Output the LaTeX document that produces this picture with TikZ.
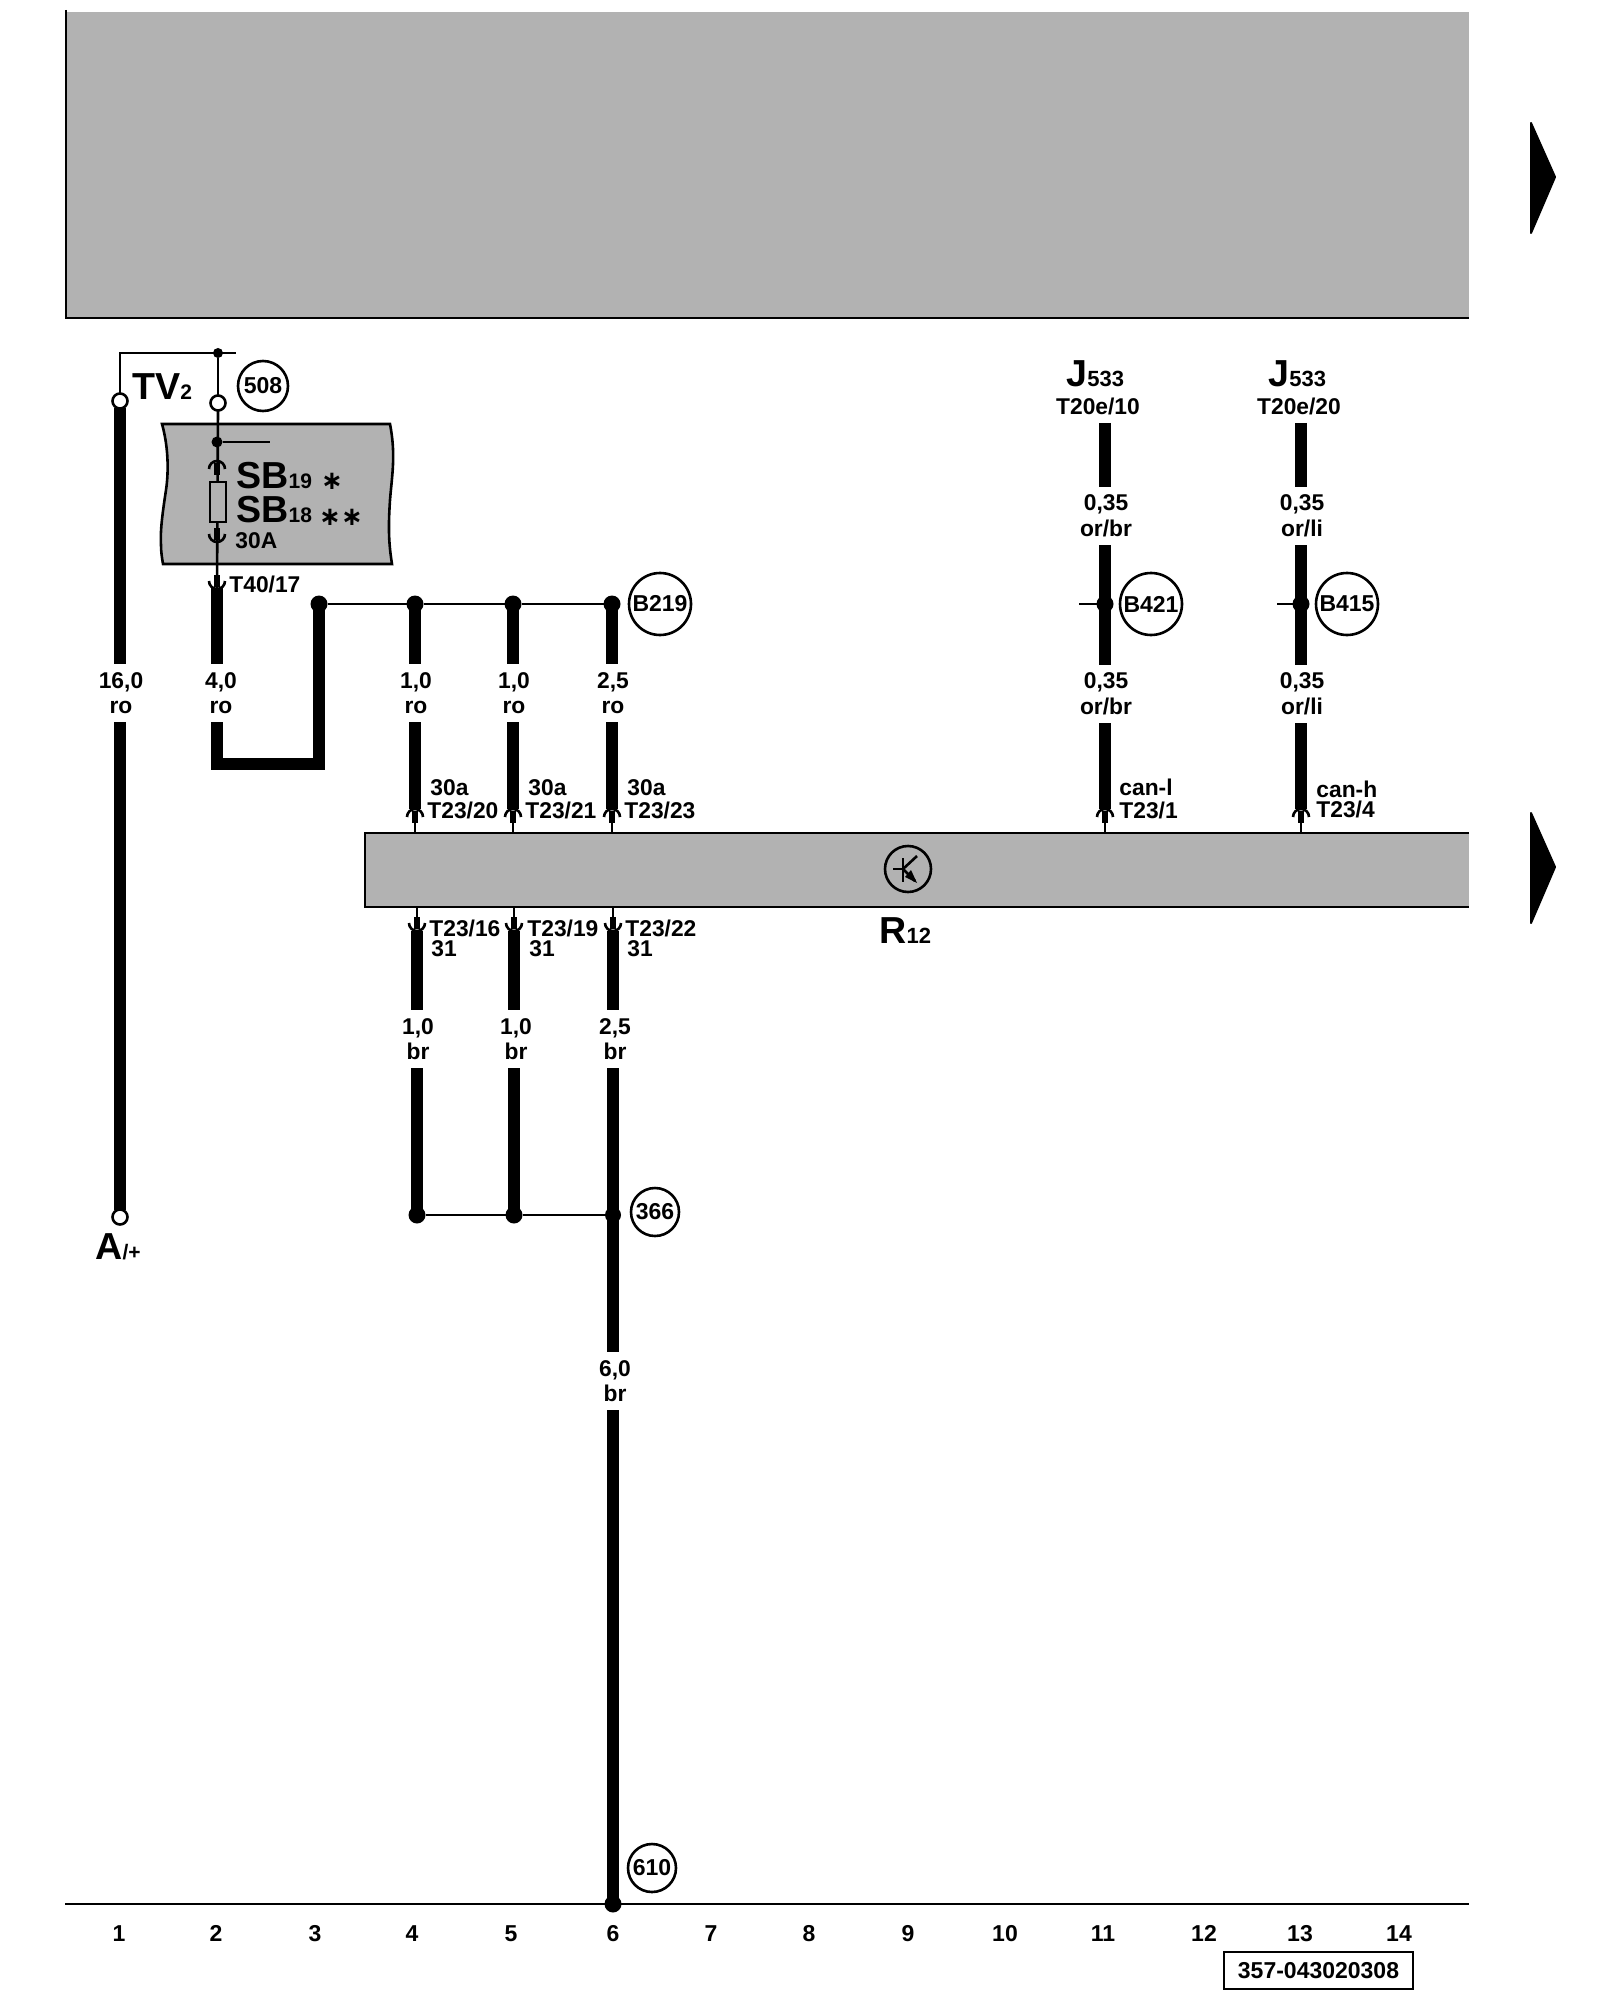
\documentclass[tikz,border=0pt]{standalone}
\usepackage{fontspec}
\setmainfont{Liberation Sans}
\newfontfamily\astfont{DejaVu Sans}
\usetikzlibrary{calc}
\definecolor{boxgray}{HTML}{B2B2B2}
\tikzset{
  x=0.5pt,y=-0.5pt,
  thinw/.style={line width=1.3pt,black},
  thickw/.style={line width=6pt,black},
  panel/.style={fill=boxgray,draw=black,line width=1.3pt},
  lab/.style={font=\fontsize{11.4}{12.75}\selectfont\bfseries,inner sep=0pt,anchor=base west},
  wlabel/.style={font=\fontsize{11.4}{12.75}\selectfont\bfseries,inner sep=0pt,fill=white,align=center,minimum height=29pt,minimum width=16pt},
  big/.style={font=\fontsize{18.8}{20}\selectfont\bfseries,inner sep=0pt,anchor=base west},
  num/.style={font=\fontsize{11.5}{13}\selectfont\bfseries,inner sep=0pt,anchor=base},
  ref/.style={circle,draw=black,line width=1.3pt,fill=white,inner sep=0pt,font=\fontsize{11.5}{12}\selectfont\bfseries},
  dotj/.style={circle,fill=black,inner sep=0pt,outer sep=0pt},
  opent/.style={circle,draw=black,fill=white,line width=1.3pt,inner sep=0pt,outer sep=0pt,minimum size=7.5pt},
  nav/.style={fill=black,draw=black,line width=1pt,line join=round},
  ast/.style={font=\astfont\fontsize{13}{13}\selectfont\bfseries,inner sep=0pt},
  pinup/.pic={
    \draw[line width=1.3pt] (-8,9) arc[start angle=180,end angle=360,radius=8];
    \draw[line width=2.8pt] (0,3) -- (0,15);
  },
  pindown/.pic={
    \draw[line width=1.3pt] (-8,-9) arc[start angle=180,end angle=0,radius=8];
    \draw[line width=2.8pt] (0,-3) -- (0,-15);
  }
}
\newcommand{\subt}[1]{{\fontsize{10.5}{11}\selectfont #1}}
\newcommand{\subj}[1]{{\fontsize{11}{11}\selectfont #1}}
\begin{document}
\begin{tikzpicture}
\useasboundingbox (0,0) rectangle (1600,2000);

% top panel
\fill[boxgray] (66,12) rectangle (1469,318);
\draw[thinw] (66,10) -- (66,318) -- (1469,318);

% navigation triangles
\fill[nav] (1531,123) -- (1555,177) -- (1531,233) -- cycle;
\fill[nav] (1531,813) -- (1555,867) -- (1531,923) -- cycle;

% bottom line
\coordinate (baseL) at (65,1904);
\coordinate (baseR) at (1469,1904);
\draw[thinw] (baseL) -- (baseR);

% fuse panel
\draw[panel] (162,424) .. controls (168,445) and (169,470) .. (166,490) .. controls (163,510) and (160,530) .. (161,545) .. controls (161,552) and (162,558) .. (163,564) -- (392,564) .. controls (389,545) and (388,530) .. (390,500) .. controls (392,475) and (396,455) .. (390,424) -- cycle;

% R12 panel
\fill[boxgray] (365,833) rectangle (1469,907);
\draw[thinw] (1469,833) -- (365,833) -- (365,907) -- (1469,907);

% anchors
\coordinate (tvtop) at (120,353);
\coordinate (jtop) at (218,353);
\coordinate (jtopend) at (236,353);
\node[opent] (o1) at (120,401) {};
\node[opent] (o2) at (218,403) {};
\node[opent] (o3) at (120,1217) {};
\node[dotj,minimum size=5pt] (d1) at (218,353) {};
\node[dotj,minimum size=5.5pt] (d2) at (217,442) {};
\coordinate (d2end) at (270,442);

% thin wires upper left
\draw[thinw] (o1.north) -- (tvtop) -- (jtopend);
\draw[thinw] (d1) -- (o2.north);
\draw[thinw] (o2.south) -- (217,588);
\draw[thinw] (d2) -- (d2end);

% fuse
\draw[line width=1.2pt,fill=boxgray] (210,482) rectangle (226,522);
\path (217,460) pic {pinup};
\path (217,543) pic {pindown};
\path (217,590) pic {pindown};

% wire 1
\draw[thickw] (o3.north) -- (o1.south);
% wire 2
\coordinate (w2a) at (217,588);
\coordinate (w2b) at (217,764);
\coordinate (w2c) at (319,764);
\node[dotj,minimum size=8.5pt] (b1) at (319,604) {};
\draw[thickw,line join=miter] (w2a) -- (w2b) -- (w2c) -- (b1.center);

% power bus
\node[dotj,minimum size=8.5pt] (b2) at (415,604) {};
\node[dotj,minimum size=8.5pt] (b3) at (513,604) {};
\node[dotj,minimum size=8.5pt] (b4) at (612,604) {};
\draw[thinw] (b1) -- (b2) -- (b3) -- (b4);
\foreach \n/\x in {b2/415,b3/513,b4/612}{
  \coordinate (\n pin) at (\x,833);
  \draw[thickw] (\n.center) -- (\x,809);
  \draw[thinw] (\x,820) -- (\n pin);
  \path (\x,808) pic {pinup};
}

% CAN wires
\coordinate (c1top) at (1105,423);
\coordinate (c2top) at (1301,423);
\foreach \n/\x in {c1/1105,c2/1301}{
  \draw[thickw] (\n top) -- (\x,809);
  \draw[thinw] (\x,820) -- (\x,833);
  \path (\x,808) pic {pinup};
}
\node[dotj,minimum size=8.5pt] (c1j) at (1105,604) {};
\node[dotj,minimum size=8.5pt] (c2j) at (1301,604) {};
\coordinate (c1s) at (1079,604);
\coordinate (c2s) at (1277,604);
\draw[thinw] (c1s) -- (c1j);
\draw[thinw] (c2s) -- (c2j);

% ground wires
\node[dotj,minimum size=8.5pt] (g1) at (417,1215) {};
\node[dotj,minimum size=8.5pt] (g2) at (514,1215) {};
\node[dotj,minimum size=8pt] (g3) at (613,1215) {};
\node[dotj,minimum size=8.5pt] (g4) at (613,1904) {};
\draw[thinw] (g1) -- (g2) -- (g3);
\foreach \n/\x in {g1/417,g2/514,g3/613}{
  \draw[thickw] (\x,931) -- (\n.center);
  \draw[thinw] (\x,907) -- (\x,920);
  \path (\x,932) pic {pindown};
}
\draw[thickw] (g3.center) -- (g4.center);

% wire labels
\node[wlabel] (l1) at (121,693) {16,0\\ro};
\node[wlabel] (l2) at (221,693) {4,0\\ro};
\node[wlabel] (l3) at (416,693) {1,0\\ro};
\node[wlabel] (l4) at (514,693) {1,0\\ro};
\node[wlabel] (l5) at (613,693) {2,5\\ro};
\node[wlabel] (l6) at (1106,516) {0,35\\or/br};
\node[wlabel] (l7) at (1106,694) {0,35\\or/br};
\node[wlabel] (l8) at (1302,516) {0,35\\or/li};
\node[wlabel] (l9) at (1302,694) {0,35\\or/li};
\node[wlabel] (l10) at (418,1039) {1,0\\br};
\node[wlabel] (l11) at (516,1039) {1,0\\br};
\node[wlabel] (l12) at (615,1039) {2,5\\br};
\node[wlabel] (l13) at (615,1381) {6,0\\br};

% pin labels
\node[lab] (p1) at (430,795) {30a};
\node[lab] (p2) at (427,818) {T23/20};
\node[lab] (p3) at (528,795) {30a};
\node[lab] (p4) at (525,818) {T23/21};
\node[lab] (p5) at (627,795) {30a};
\node[lab] (p6) at (624,818) {T23/23};
\node[lab] (p7) at (1119,795) {can-l};
\node[lab] (p8) at (1119,818) {T23/1};
\node[lab] (p9) at (1316,797) {can-h};
\node[lab] (p10) at (1316,817) {T23/4};
\node[lab] (q1) at (429,936) {T23/16};
\node[lab] (q2) at (431,956) {31};
\node[lab] (q3) at (527,936) {T23/19};
\node[lab] (q4) at (529,956) {31};
\node[lab] (q5) at (625,936) {T23/22};
\node[lab] (q6) at (627,956) {31};
\node[lab] (t40) at (229,592) {T40/17};
\node[lab] (a30) at (235,548) {30A};

% big labels
\node[big] (tv) at (132,400) {TV\subt{2}};
\node[big] (sb19) at (236,488) {SB\subt{19}};
\node[big] (sb18) at (236,522) {SB\subt{18}};
\node[ast] (ast1) at (332,481) {∗};
\node[ast] (ast2) at (341,517) {∗∗};
\node[big] (j1) at (1066,387) {J\subj{533}};
\node[big] (j2) at (1268,387) {J\subj{533}};
\node[lab,anchor=center] (t1) at (1098,406) {T20e/10};
\node[lab,anchor=center] (t2) at (1299,406) {T20e/20};
\node[big] (r12) at (879,943) {R\subj{12}};
\node[big] (aplus) at (95,1259) {A{\fontsize{10.5}{11}\selectfont /+}};

% reference circles
\node[ref,minimum size=25pt] (r508) at (263,386) {508};
\node[ref,minimum size=31pt] (rb219) at (660,604) {B219};
\node[ref,minimum size=31pt] (rb421) at (1151,604) {B421};
\node[ref,minimum size=31pt] (rb415) at (1347,604) {B415};
\node[ref,minimum size=24pt] (r366) at (655,1212) {366};
\node[ref,minimum size=24pt] (r610) at (652,1868) {610};

% relay symbol
\node[circle,draw=black,line width=1.3pt,inner sep=0pt,minimum size=23pt] (sym) at (908,869) {};
\coordinate (sb) at (893,869);
\coordinate (sc) at (903,869);
\draw[thinw] (sb) -- (sc);
\draw[thinw] (903,858) -- (903,882);
\draw[thinw] (sc) -- (917,856);
\draw[line width=1.3pt] (sc) -- (915,881);
\fill (917,883) -- (905,877) -- (911,870) -- cycle;

% column numbers
\foreach \x [count=\i] in {119,216,315,412,511,613,711,809,908,1005,1103,1204,1300,1399}{
  \node[num] (col\i) at (\x,1941) {\i};
}
\node[draw=black,line width=1.3pt,font=\fontsize{11.5}{13}\selectfont\bfseries,minimum width=94.5pt,minimum height=18.5pt,inner sep=0pt] (code) at (1318.5,1970.5) {357-043020308};
\end{tikzpicture}
\end{document}
